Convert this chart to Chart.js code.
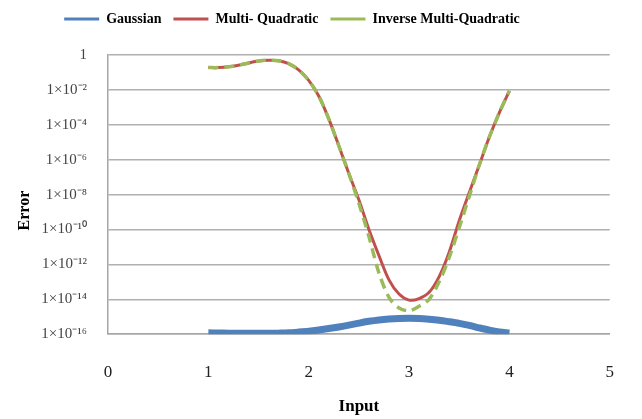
<!DOCTYPE html>
<html>
<head>
<meta charset="utf-8">
<script src="https://cdn.jsdelivr.net/npm/chart.js@4.4.1/dist/chart.umd.min.js"></script>
<style>
  html, body { margin: 0; padding: 0; background: #fff; }
  #wrap { width: 642px; height: 419px; position: relative; }
</style>
</head>
<body>
<div id="wrap"><canvas id="errorChart"></canvas></div>
<script>
const inputs = [1.0, 1.1, 1.2, 1.3, 1.4, 1.5, 1.6, 1.7, 1.8, 1.9, 2.0, 2.1, 2.2, 2.3, 2.4, 2.5,
    2.6, 2.7, 2.8, 2.9, 3.0, 3.1, 3.2, 3.3, 3.4, 3.5, 3.6, 3.7, 3.8, 3.9, 4.0];

const gaussian = [1.2e-16, 1.17e-16, 1.15e-16, 1.12e-16, 1.12e-16, 1.12e-16, 1.12e-16, 1.15e-16,
    1.2e-16, 1.32e-16, 1.48e-16, 1.74e-16, 2.1e-16, 2.6e-16, 3.3e-16, 4.3e-16, 5.5e-16, 6.6e-16,
    7.4e-16, 7.9e-16, 8.1e-16, 7.9e-16, 7.2e-16, 6.3e-16, 5.2e-16, 4.2e-16, 3.2e-16, 2.3e-16,
    1.7e-16, 1.35e-16, 1.17e-16];

const multiQuadratic = [0.19, 0.19, 0.21, 0.26, 0.35, 0.45, 0.50, 0.47, 0.32, 0.14, 3.5e-2,
    4.5e-3, 2.2e-4, 6.3e-6, 1.6e-7, 5e-9, 1e-10, 3.2e-12, 1.3e-13, 2e-14, 9e-15, 1.1e-14,
    2.5e-14, 2e-13, 5e-12, 3.2e-10, 1.3e-8, 5e-7, 2e-5, 5e-4, 8.9e-3];

const inverseMultiQuadratic = [0.19, 0.19, 0.21, 0.26, 0.35, 0.45, 0.50, 0.47, 0.32, 0.14, 3.5e-2,
    4.5e-3, 2.2e-4, 6.3e-6, 1.6e-7, 3.2e-9, 4e-11, 3.2e-13, 1.3e-14, 3.2e-15, 2.2e-15, 4e-15,
    1e-14, 1e-13, 2.5e-12, 1.3e-10, 7.9e-9, 5e-7, 2e-5, 5e-4, 8.9e-3];

const yTicks = [1e-16, 1e-14, 1e-12, 1e-10, 1e-8, 1e-6, 1e-4, 1e-2, 1];
const yTickLabels = ['1×10⁻¹⁶', '1×10⁻¹⁴', '1×10⁻¹²', '1×10⁻¹⁰', '1×10⁻⁸', '1×10⁻⁶',
    '1×10⁻⁴', '1×10⁻²', '1'];

function toPoints(values) {
    return values.map((v, i) => ({ x: inputs[i], y: v }));
}

// nudge the legend so it sits left of centre like the original
const legendShift = {
    id: 'legendShift',
    afterLayout(chart) {
        const lg = chart.legend;
        lg.left -= 15;
        lg.right -= 15;
        lg.top -= 19;
        lg.bottom -= 19;
    }
};

const serif = "'Liberation Serif', 'Times New Roman', serif";

document.addEventListener('DOMContentLoaded', function () {
    const ctx = document.getElementById('errorChart').getContext('2d');
    new Chart(ctx, {
        type: 'line',
        data: {
            datasets: [{
                label: 'Gaussian',
                data: toPoints(gaussian),
                borderColor: '#4f81bd',
                backgroundColor: '#4f81bd',
                borderWidth: 7,
                pointRadius: 0,
                tension: 0.3,
                order: 3
            }, {
                label: 'Multi- Quadratic',
                data: toPoints(multiQuadratic),
                borderColor: '#c0504d',
                backgroundColor: '#c0504d',
                borderWidth: 3,
                pointRadius: 0,
                tension: 0.3,
                order: 2
            }, {
                label: 'Inverse Multi-Quadratic',
                data: toPoints(inverseMultiQuadratic),
                borderColor: '#9bbb59',
                backgroundColor: '#9bbb59',
                borderWidth: 3.5,
                borderDash: [10, 6],
                pointRadius: 0,
                tension: 0.3,
                order: 1
            }]
        },
        options: {
            responsive: true,
            maintainAspectRatio: false,
            animation: false,
            layout: {
                padding: { top: 19, right: 28, bottom: 0, left: 0 }
            },
            plugins: {
                legend: {
                    position: 'top',
                    labels: {
                        usePointStyle: true,
                        pointStyle: 'line',
                        pointStyleWidth: 35,
                        padding: 12,
                        color: '#000',
                        font: { family: serif, size: 14, weight: 'bold' },
                        sort: (a, b) => a.datasetIndex - b.datasetIndex,
                        generateLabels(chart) {
                            const items = Chart.defaults.plugins.legend.labels.generateLabels(chart);
                            items.forEach(item => { item.lineWidth = 3; });
                            return items;
                        }
                    }
                },
                tooltip: { enabled: false }
            },
            scales: {
                x: {
                    type: 'linear',
                    min: 0,
                    max: 5,
                    grid: { display: false, drawTicks: false },
                    border: { display: true, color: '#a6a6a6', width: 1.5 },
                    ticks: {
                        stepSize: 1,
                        padding: 28,
                        color: '#222',
                        font: { family: serif, size: 17 }
                    },
                    title: {
                        display: true,
                        text: 'Input',
                        color: '#000',
                        font: { family: serif, size: 17, weight: 'bold' },
                        padding: { top: -14, bottom: 2 }
                    }
                },
                y: {
                    type: 'logarithmic',
                    min: 1e-16,
                    max: 1,
                    afterBuildTicks(scale) {
                        scale.ticks = yTicks.map(v => ({ value: v }));
                    },
                    afterFit(scale) {
                        scale.width = 108;
                    },
                    grid: { color: '#b0b0b0', lineWidth: 1.5, drawTicks: false },
                    border: { display: true, color: '#a6a6a6', width: 1.5 },
                    ticks: {
                        padding: 21,
                        color: '#444',
                        font: { family: serif, size: 15 },
                        callback: function (value, index) {
                            return yTickLabels[index];
                        }
                    },
                    title: {
                        display: true,
                        text: 'Error        ',
                        color: '#000',
                        font: { family: serif, size: 16, weight: 'bold' },
                        padding: { top: 15, bottom: 0 }
                    }
                }
            }
        },
        plugins: [legendShift]
    });
});
</script>
</body>
</html>
